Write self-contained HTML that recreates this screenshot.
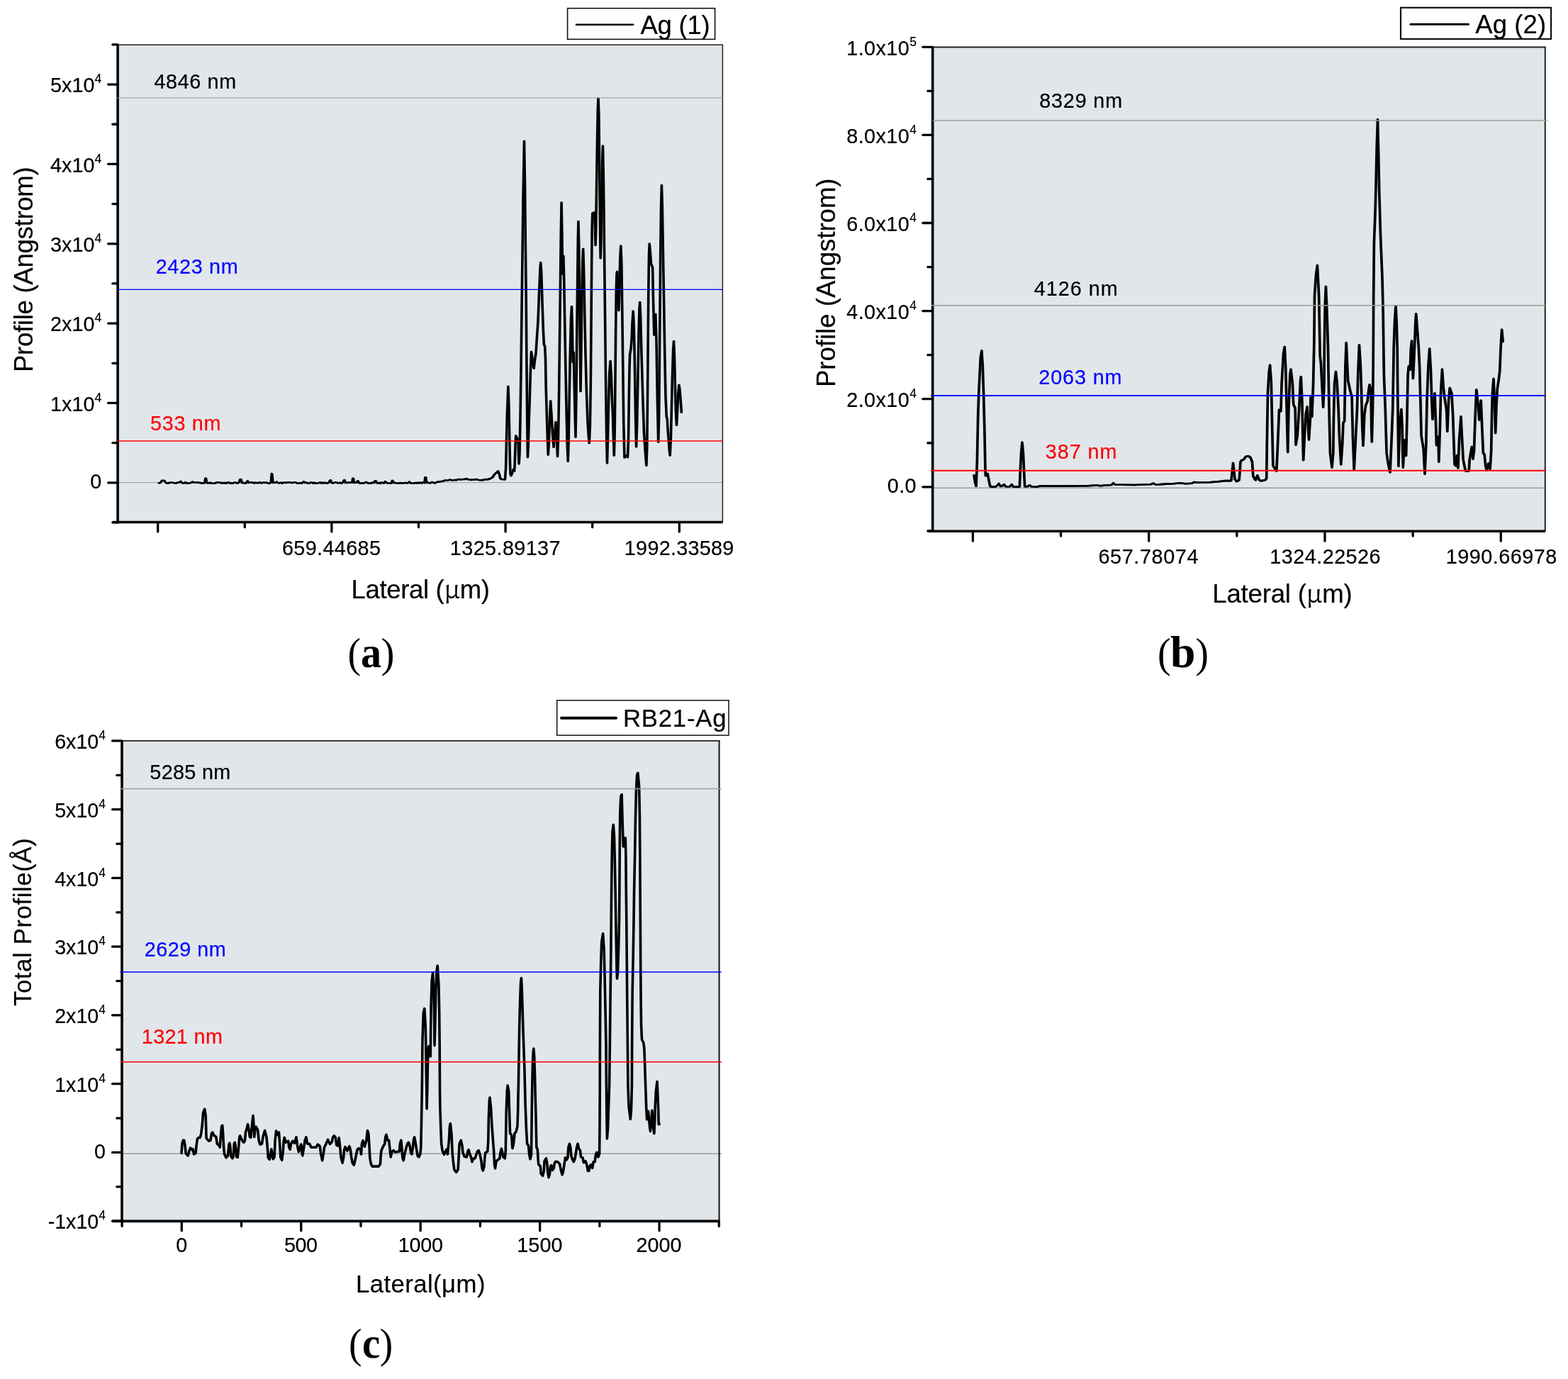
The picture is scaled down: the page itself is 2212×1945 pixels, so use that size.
<!DOCTYPE html>
<html lang="en"><head><meta charset="utf-8"><title>Profile figures</title>
<style>html,body{margin:0;padding:0;background:#fff}body{width:2212px;height:1945px;overflow:hidden}svg{display:block}text{white-space:pre}</style>
</head><body>
<svg xmlns="http://www.w3.org/2000/svg" width="2212" height="1945" viewBox="0 0 2212 1945">
<rect x="0" y="0" width="2212" height="1945" fill="#fff"/>
<g>
<rect x="166.10" y="63.30" width="853.30" height="673.20" fill="#e1e6ea"/>
<line x1="166.10" y1="680.60" x2="1019.40" y2="680.60" stroke="#9c9c9c" stroke-width="1.00" stroke-linecap="butt"/>
<polyline points="223.6,681.2 225.6,681.0 228.1,677.8 231.3,677.9 233.8,681.1 236.1,681.8 238.4,681.0 239.8,680.6 241.2,680.7 242.6,680.6 244.4,681.1 246.3,681.3 248.1,681.6 250.0,680.5 251.8,680.8 253.3,679.6 254.7,678.9 256.2,681.1 257.9,681.6 259.7,681.4 261.0,679.9 262.0,681.4 263.3,681.8 265.4,681.3 267.6,681.3 269.7,680.6 271.0,679.5 272.0,680.3 273.3,680.4 275.2,680.6 277.0,680.7 278.9,680.3 280.7,681.0 282.6,681.0 284.4,681.6 286.2,681.1 288.1,681.3 289.3,674.8 290.1,674.8 291.3,681.1 293.0,681.4 294.8,681.0 296.5,680.7 298.2,681.9 299.9,681.9 301.7,681.6 303.4,681.4 304.8,680.4 306.2,680.3 307.6,680.8 309.7,680.4 311.8,681.5 313.8,680.9 315.9,681.7 317.1,680.7 317.9,681.6 319.1,681.7 320.8,680.3 322.6,680.6 324.3,681.8 326.1,681.1 327.8,681.9 329.5,680.9 331.3,680.4 333.0,681.3 334.8,681.5 336.5,680.7 338.0,676.6 339.4,675.9 340.9,681.1 342.8,680.8 344.8,681.8 346.7,681.5 348.0,679.0 349.0,678.4 350.3,681.1 352.2,680.7 354.2,680.5 356.1,680.4 358.1,681.6 360.0,680.6 362.0,681.2 363.9,681.0 365.1,680.3 365.9,681.2 367.1,680.5 368.9,681.3 370.7,680.5 372.5,681.0 374.4,680.6 376.2,680.7 378.0,681.9 379.8,681.6 381.6,680.8 382.7,668.0 383.5,668.6 384.6,681.1 386.4,680.6 388.2,680.9 389.5,679.5 390.5,680.1 391.8,681.1 393.8,681.3 395.8,680.5 397.7,681.9 399.7,680.6 401.7,680.7 403.0,681.1 404.0,680.4 405.3,680.8 407.4,680.4 409.4,680.4 411.4,681.2 413.5,680.7 414.9,680.5 416.1,680.1 417.5,681.0 419.4,681.8 421.4,681.1 423.4,681.2 425.3,681.7 426.8,679.9 428.2,679.4 429.7,681.1 431.7,680.5 433.7,681.8 435.7,681.6 437.7,680.7 439.0,680.1 440.0,681.0 441.3,681.8 443.0,680.6 444.7,681.8 446.5,681.7 448.2,681.3 449.9,681.0 451.1,680.2 451.9,680.1 453.1,681.8 454.8,680.7 456.5,681.4 458.2,680.7 460.0,681.6 461.7,681.3 463.4,680.8 464.8,677.8 466.0,677.3 467.4,681.1 469.6,681.5 471.7,680.4 473.9,680.7 475.1,680.7 475.9,681.2 477.1,681.3 479.1,680.7 481.1,681.8 483.1,680.6 484.4,677.8 485.6,677.0 486.9,681.1 488.7,680.7 490.5,681.0 492.4,680.4 494.2,680.6 496.0,680.9 497.2,674.8 498.1,674.9 499.2,681.1 501.0,680.5 502.8,680.9 504.0,678.3 505.0,678.9 506.2,681.1 508.1,681.9 510.0,681.4 512.0,681.4 513.9,681.2 515.0,680.1 516.0,680.0 517.1,680.3 519.1,681.8 521.1,681.4 523.1,681.8 525.1,680.3 527.1,681.3 528.5,678.3 529.7,678.3 531.1,681.1 532.8,681.5 534.5,680.8 536.2,681.9 538.0,680.4 539.7,681.2 541.4,681.5 542.7,679.0 543.7,679.6 545.0,681.1 547.2,681.5 549.4,681.4 551.6,681.6 552.8,677.8 553.8,678.5 555.0,681.1 556.7,680.9 558.5,681.4 560.2,681.7 562.0,681.7 563.7,681.0 565.0,681.2 566.0,681.3 567.3,681.2 569.3,681.3 571.3,680.9 573.4,681.2 575.4,681.3 576.8,679.6 578.2,680.5 579.6,681.9 581.7,681.7 583.8,681.5 585.8,680.9 587.9,681.5 589.0,680.8 590.0,680.6 591.1,681.6 592.9,680.4 594.7,681.5 596.4,680.3 598.2,681.3 599.3,673.3 600.3,673.3 601.4,681.1 603.5,680.7 605.5,681.4 607.6,681.1 608.9,679.9 610.1,680.1 611.4,681.1 613.4,681.4 615.5,680.1 617.5,679.3 619.5,679.8 622.0,678.9 624.5,678.6 627.5,677.4 629.5,677.9 631.5,677.3 633.5,676.8 635.5,676.8 637.5,677.5 639.5,677.2 641.5,676.9 643.5,677.3 645.5,676.1 647.5,676.0 649.5,676.6 651.5,676.1 653.5,676.0 655.5,676.0 657.5,675.0 660.0,676.4 662.5,676.4 664.2,677.1 666.0,676.3 667.8,676.7 669.5,676.3 671.5,676.0 673.5,676.6 675.5,677.1 677.5,677.2 679.5,676.9 681.2,677.3 683.0,676.2 684.7,676.0 686.5,676.4 688.2,676.0" fill="none" stroke="#000" stroke-width="2.40" stroke-linejoin="round" stroke-linecap="round"/>
<polyline points="224.6,681.2 226.6,681.0 229.1,677.8 232.3,677.9 234.8,681.1 237.1,681.8 239.4,681.0 240.8,680.6 242.2,680.7 243.6,680.6 245.4,681.1 247.3,681.3 249.1,681.6 251.0,680.5 252.8,680.8 254.3,679.6 255.7,678.9 257.2,681.1 258.9,681.6 260.7,681.4 262.0,679.9 263.0,681.4 264.3,681.8 266.4,681.3 268.6,681.3 270.7,680.6 272.0,679.5 273.0,680.3 274.3,680.4 276.2,680.6 278.0,680.7 279.9,680.3 281.7,681.0 283.6,681.0 285.4,681.6 287.2,681.1 289.1,681.3 290.3,674.8 291.1,674.8 292.3,681.1 294.0,681.4 295.8,681.0 297.5,680.7 299.2,681.9 300.9,681.9 302.7,681.6 304.4,681.4 305.8,680.4 307.2,680.3 308.6,680.8 310.7,680.4 312.8,681.5 314.8,680.9 316.9,681.7 318.1,680.7 318.9,681.6 320.1,681.7 321.8,680.3 323.6,680.6 325.3,681.8 327.1,681.1 328.8,681.9 330.5,680.9 332.3,680.4 334.0,681.3 335.8,681.5 337.5,680.7 339.0,676.6 340.4,675.9 341.9,681.1 343.8,680.8 345.8,681.8 347.7,681.5 349.0,679.0 350.0,678.4 351.3,681.1 353.2,680.7 355.2,680.5 357.1,680.4 359.1,681.6 361.0,680.6 363.0,681.2 364.9,681.0 366.1,680.3 366.9,681.2 368.1,680.5 369.9,681.3 371.7,680.5 373.5,681.0 375.4,680.6 377.2,680.7 379.0,681.9 380.8,681.6 382.6,680.8 383.7,668.0 384.5,668.6 385.6,681.1 387.4,680.6 389.2,680.9 390.5,679.5 391.5,680.1 392.8,681.1 394.8,681.3 396.8,680.5 398.7,681.9 400.7,680.6 402.7,680.7 404.0,681.1 405.0,680.4 406.3,680.8 408.4,680.4 410.4,680.4 412.4,681.2 414.5,680.7 415.9,680.5 417.1,680.1 418.5,681.0 420.4,681.8 422.4,681.1 424.4,681.2 426.3,681.7 427.8,679.9 429.2,679.4 430.7,681.1 432.7,680.5 434.7,681.8 436.7,681.6 438.7,680.7 440.0,680.1 441.0,681.0 442.3,681.8 444.0,680.6 445.7,681.8 447.5,681.7 449.2,681.3 450.9,681.0 452.1,680.2 452.9,680.1 454.1,681.8 455.8,680.7 457.5,681.4 459.2,680.7 461.0,681.6 462.7,681.3 464.4,680.8 465.8,677.8 467.0,677.3 468.4,681.1 470.6,681.5 472.7,680.4 474.9,680.7 476.1,680.7 476.9,681.2 478.1,681.3 480.1,680.7 482.1,681.8 484.1,680.6 485.4,677.8 486.6,677.0 487.9,681.1 489.7,680.7 491.5,681.0 493.4,680.4 495.2,680.6 497.0,680.9 498.2,674.8 499.1,674.9 500.2,681.1 502.0,680.5 503.8,680.9 505.0,678.3 506.0,678.9 507.2,681.1 509.1,681.9 511.0,681.4 513.0,681.4 514.9,681.2 516.0,680.1 517.0,680.0 518.1,680.3 520.1,681.8 522.1,681.4 524.1,681.8 526.1,680.3 528.1,681.3 529.5,678.3 530.7,678.3 532.1,681.1 533.8,681.5 535.5,680.8 537.2,681.9 539.0,680.4 540.7,681.2 542.4,681.5 543.7,679.0 544.7,679.6 546.0,681.1 548.2,681.5 550.4,681.4 552.6,681.6 553.8,677.8 554.8,678.5 556.0,681.1 557.7,680.9 559.5,681.4 561.2,681.7 563.0,681.7 564.7,681.0 566.0,681.2 567.0,681.3 568.3,681.2 570.3,681.3 572.3,680.9 574.4,681.2 576.4,681.3 577.8,679.6 579.2,680.5 580.6,681.9 582.7,681.7 584.8,681.5 586.8,680.9 588.9,681.5 590.0,680.8 591.0,680.6 592.1,681.6 593.9,680.4 595.7,681.5 597.4,680.3 599.2,681.3 600.3,673.3 601.3,673.3 602.4,681.1 604.5,680.7 606.5,681.4 608.6,681.1 609.9,679.9 611.1,680.1 612.4,681.1 614.4,681.4 616.5,680.1 618.5,679.3 620.5,679.8 623.0,678.9 625.5,678.6 628.5,677.4 630.5,677.9 632.5,677.3 634.5,676.8 636.5,676.8 638.5,677.5 640.5,677.2 642.5,676.9 644.5,677.3 646.5,676.1 648.5,676.0 650.5,676.6 652.5,676.1 654.5,676.0 656.5,676.0 658.5,675.0 661.0,676.4 663.5,676.4 665.2,677.1 667.0,676.3 668.8,676.7 670.5,676.3 672.5,676.0 674.5,676.6 676.5,677.1 678.5,677.2 680.5,676.9 682.2,677.3 684.0,676.2 685.7,676.0 687.5,676.4 689.2,676.0" fill="none" stroke="#000" stroke-width="2.40" stroke-linejoin="round" stroke-linecap="round"/>
<polyline points="688.2,676.0 691.5,675.0 694.4,673.2 696.4,670.0 698.0,668.4 702.2,664.5 703.8,668.5 705.2,674.8 707.5,676.0 712.0,676.2 713.1,660.0 713.8,630.0 714.7,590.0 716.4,545.0 717.5,575.0 718.1,610.0 718.9,650.0 719.5,668.0 720.5,671.0 722.5,666.0 723.8,662.0 725.1,664.5 725.7,655.0 726.5,630.0 727.2,614.5 729.0,618.5 730.6,621.0 731.0,640.0 731.6,654.2 732.5,640.0 733.5,590.0 734.5,520.0 735.5,440.0 736.5,360.0 737.5,280.0 739.0,199.0 740.0,260.0 740.8,340.0 741.7,420.0 742.5,520.0 743.3,600.0 743.9,645.0 744.7,630.0 745.8,590.0 746.8,560.0 748.0,520.0 749.0,496.0 750.5,506.0 751.7,517.0 752.7,519.6 754.0,508.0 755.6,497.5 757.0,475.0 758.5,453.0 760.0,415.0 761.5,380.0 762.2,370.2 763.1,382.0 764.3,420.0 765.5,455.0 766.1,470.0 766.9,486.0 768.1,488.0 769.0,505.0 769.6,541.6 770.8,585.0 771.8,615.0 772.8,641.4 773.9,625.0 775.0,590.0 776.2,565.5 777.5,585.0 779.0,612.0 780.6,630.7 782.0,612.0 783.5,595.4 784.7,615.0 786.0,643.9 787.0,620.0 788.0,560.0 789.0,480.0 790.0,400.0 790.8,330.0 791.6,285.7 792.4,330.0 792.9,370.0 793.2,386.4 793.8,372.0 794.4,361.0 795.3,400.0 796.5,470.0 798.0,550.0 799.5,620.0 800.7,650.8 801.7,620.0 802.7,560.0 803.8,500.0 805.0,450.0 806.0,432.2 806.8,460.0 807.3,495.0 807.7,511.0 808.3,500.0 808.8,497.0 809.5,530.0 810.5,580.0 811.5,616.5 812.4,560.0 813.2,480.0 814.1,400.0 814.8,340.0 815.4,312.2 816.2,345.0 817.0,410.0 817.7,480.0 818.5,552.0 819.3,500.0 820.3,420.0 821.3,370.0 822.2,351.0 823.1,380.0 824.2,440.0 825.5,500.0 827.0,555.0 828.5,595.0 829.8,615.0 830.8,625.0 831.9,600.0 832.8,540.0 833.5,460.0 834.1,380.0 834.7,320.0 835.3,301.0 838.0,299.5 838.9,320.0 839.6,346.0 840.3,320.0 841.1,260.0 842.0,200.0 842.8,155.0 843.5,138.8 844.3,160.0 845.0,220.0 845.7,290.0 846.3,345.0 846.7,364.3 847.4,340.0 848.3,280.0 849.1,230.0 849.9,205.7 850.7,240.0 851.5,300.0 852.3,380.0 853.2,460.0 854.2,550.0 855.2,620.0 856.0,653.2 856.9,620.0 858.0,570.0 859.3,525.0 860.6,509.3 861.8,530.0 863.0,565.0 864.0,585.0 864.8,615.0 865.8,642.4 866.7,610.0 867.4,540.0 868.1,470.0 868.8,410.0 869.5,386.0 870.1,383.0 871.3,400.0 872.4,438.0 873.3,410.0 874.3,365.0 875.3,346.7 876.3,370.0 877.3,440.0 878.3,520.0 879.3,600.0 880.5,645.4 882.7,642.5 885.0,645.0 886.0,620.0 886.7,570.0 887.5,520.0 888.1,500.0 889.5,492.0 890.5,480.0 891.5,455.0 892.7,438.8 893.8,460.0 895.0,520.0 896.1,590.0 897.1,630.2 898.1,600.0 899.3,540.0 900.5,470.0 901.5,435.0 902.2,426.3 903.1,445.0 904.5,500.0 906.3,560.0 908.0,610.0 910.0,640.0 911.4,656.6 912.3,630.0 913.0,560.0 913.7,480.0 914.3,410.0 915.0,360.0 915.7,343.8 916.8,355.0 918.0,372.0 920.1,377.0 921.0,420.0 921.8,455.0 922.4,472.5 923.3,455.0 924.3,443.0 925.5,480.0 926.8,560.0 928.2,623.5 929.1,590.0 929.8,520.0 930.5,440.0 931.2,360.0 932.0,295.0 932.9,261.2 933.8,290.0 934.8,350.0 936.0,420.0 937.3,500.0 938.5,560.0 939.8,588.0 940.8,591.0 941.5,605.0 942.7,620.0 943.8,635.0 944.7,642.4 945.8,620.0 946.8,580.0 948.0,530.0 949.1,495.0 950.0,481.4 950.9,500.0 951.8,540.0 952.9,580.0 954.0,599.8 955.1,580.0 956.3,555.0 957.4,543.0 958.5,550.0 959.7,565.0 960.9,581.7" fill="none" stroke="#000" stroke-width="2.60" stroke-linejoin="round" stroke-linecap="round"/>
<polyline points="689.2,676.0 692.5,675.0 695.4,673.2 697.4,670.0 699.0,668.4 703.2,664.5 704.8,668.5 706.2,674.8 708.5,676.0 713.0,676.2 714.1,660.0 714.8,630.0 715.7,590.0 717.4,545.0 718.5,575.0 719.1,610.0 719.9,650.0 720.5,668.0 721.5,671.0 723.5,666.0 724.8,662.0 726.1,664.5 726.7,655.0 727.5,630.0 728.2,614.5 730.0,618.5 731.6,621.0 732.0,640.0 732.6,654.2 733.5,640.0 734.5,590.0 735.5,520.0 736.5,440.0 737.5,360.0 738.5,280.0 740.0,199.0 741.0,260.0 741.8,340.0 742.7,420.0 743.5,520.0 744.3,600.0 744.9,645.0 745.7,630.0 746.8,590.0 747.8,560.0 749.0,520.0 750.0,496.0 751.5,506.0 752.7,517.0 753.7,519.6 755.0,508.0 756.6,497.5 758.0,475.0 759.5,453.0 761.0,415.0 762.5,380.0 763.2,370.2 764.1,382.0 765.3,420.0 766.5,455.0 767.1,470.0 767.9,486.0 769.1,488.0 770.0,505.0 770.6,541.6 771.8,585.0 772.8,615.0 773.8,641.4 774.9,625.0 776.0,590.0 777.2,565.5 778.5,585.0 780.0,612.0 781.6,630.7 783.0,612.0 784.5,595.4 785.7,615.0 787.0,643.9 788.0,620.0 789.0,560.0 790.0,480.0 791.0,400.0 791.8,330.0 792.6,285.7 793.4,330.0 793.9,370.0 794.2,386.4 794.8,372.0 795.4,361.0 796.3,400.0 797.5,470.0 799.0,550.0 800.5,620.0 801.7,650.8 802.7,620.0 803.7,560.0 804.8,500.0 806.0,450.0 807.0,432.2 807.8,460.0 808.3,495.0 808.7,511.0 809.3,500.0 809.8,497.0 810.5,530.0 811.5,580.0 812.5,616.5 813.4,560.0 814.2,480.0 815.1,400.0 815.8,340.0 816.4,312.2 817.2,345.0 818.0,410.0 818.7,480.0 819.5,552.0 820.3,500.0 821.3,420.0 822.3,370.0 823.2,351.0 824.1,380.0 825.2,440.0 826.5,500.0 828.0,555.0 829.5,595.0 830.8,615.0 831.8,625.0 832.9,600.0 833.8,540.0 834.5,460.0 835.1,380.0 835.7,320.0 836.3,301.0 839.0,299.5 839.9,320.0 840.6,346.0 841.3,320.0 842.1,260.0 843.0,200.0 843.8,155.0 844.5,138.8 845.3,160.0 846.0,220.0 846.7,290.0 847.3,345.0 847.7,364.3 848.4,340.0 849.3,280.0 850.1,230.0 850.9,205.7 851.7,240.0 852.5,300.0 853.3,380.0 854.2,460.0 855.2,550.0 856.2,620.0 857.0,653.2 857.9,620.0 859.0,570.0 860.3,525.0 861.6,509.3 862.8,530.0 864.0,565.0 865.0,585.0 865.8,615.0 866.8,642.4 867.7,610.0 868.4,540.0 869.1,470.0 869.8,410.0 870.5,386.0 871.1,383.0 872.3,400.0 873.4,438.0 874.3,410.0 875.3,365.0 876.3,346.7 877.3,370.0 878.3,440.0 879.3,520.0 880.3,600.0 881.5,645.4 883.7,642.5 886.0,645.0 887.0,620.0 887.7,570.0 888.5,520.0 889.1,500.0 890.5,492.0 891.5,480.0 892.5,455.0 893.7,438.8 894.8,460.0 896.0,520.0 897.1,590.0 898.1,630.2 899.1,600.0 900.3,540.0 901.5,470.0 902.5,435.0 903.2,426.3 904.1,445.0 905.5,500.0 907.3,560.0 909.0,610.0 911.0,640.0 912.4,656.6 913.3,630.0 914.0,560.0 914.7,480.0 915.3,410.0 916.0,360.0 916.7,343.8 917.8,355.0 919.0,372.0 921.1,377.0 922.0,420.0 922.8,455.0 923.4,472.5 924.3,455.0 925.3,443.0 926.5,480.0 927.8,560.0 929.2,623.5 930.1,590.0 930.8,520.0 931.5,440.0 932.2,360.0 933.0,295.0 933.9,261.2 934.8,290.0 935.8,350.0 937.0,420.0 938.3,500.0 939.5,560.0 940.8,588.0 941.8,591.0 942.5,605.0 943.7,620.0 944.8,635.0 945.7,642.4 946.8,620.0 947.8,580.0 949.0,530.0 950.1,495.0 951.0,481.4 951.9,500.0 952.8,540.0 953.9,580.0 955.0,599.8 956.1,580.0 957.3,555.0 958.4,543.0 959.5,550.0 960.7,565.0 961.9,581.7" fill="none" stroke="#000" stroke-width="2.60" stroke-linejoin="round" stroke-linecap="round"/>
<line x1="166.10" y1="63.30" x2="1020.15" y2="63.30" stroke="#222" stroke-width="1.50" stroke-linecap="butt"/>
<line x1="1019.40" y1="63.30" x2="1019.40" y2="736.50" stroke="#222" stroke-width="1.50" stroke-linecap="butt"/>
<line x1="166.10" y1="63.30" x2="166.10" y2="738.30" stroke="#000" stroke-width="3.60" stroke-linecap="butt"/>
<line x1="158.60" y1="736.50" x2="1019.40" y2="736.50" stroke="#000" stroke-width="3.60" stroke-linecap="butt"/>
<line x1="164.60" y1="138.00" x2="1019.40" y2="138.00" stroke="#9c9c9c" stroke-width="1.00" stroke-linecap="butt"/>
<line x1="165.80" y1="408.30" x2="1019.40" y2="408.30" stroke="#0000ff" stroke-width="1.30" stroke-linecap="butt"/>
<line x1="165.80" y1="622.00" x2="1019.40" y2="622.00" stroke="#ff0000" stroke-width="1.30" stroke-linecap="butt"/>
<line x1="158.90" y1="736.97" x2="165.90" y2="736.97" stroke="#000" stroke-width="3.30" stroke-linecap="round"/>
<line x1="152.70" y1="680.80" x2="165.90" y2="680.80" stroke="#000" stroke-width="3.30" stroke-linecap="round"/>
<line x1="158.90" y1="624.63" x2="165.90" y2="624.63" stroke="#000" stroke-width="3.30" stroke-linecap="round"/>
<line x1="152.70" y1="568.46" x2="165.90" y2="568.46" stroke="#000" stroke-width="3.30" stroke-linecap="round"/>
<line x1="158.90" y1="512.29" x2="165.90" y2="512.29" stroke="#000" stroke-width="3.30" stroke-linecap="round"/>
<line x1="152.70" y1="456.12" x2="165.90" y2="456.12" stroke="#000" stroke-width="3.30" stroke-linecap="round"/>
<line x1="158.90" y1="399.95" x2="165.90" y2="399.95" stroke="#000" stroke-width="3.30" stroke-linecap="round"/>
<line x1="152.70" y1="343.78" x2="165.90" y2="343.78" stroke="#000" stroke-width="3.30" stroke-linecap="round"/>
<line x1="158.90" y1="287.61" x2="165.90" y2="287.61" stroke="#000" stroke-width="3.30" stroke-linecap="round"/>
<line x1="152.70" y1="231.44" x2="165.90" y2="231.44" stroke="#000" stroke-width="3.30" stroke-linecap="round"/>
<line x1="158.90" y1="175.27" x2="165.90" y2="175.27" stroke="#000" stroke-width="3.30" stroke-linecap="round"/>
<line x1="152.70" y1="119.10" x2="165.90" y2="119.10" stroke="#000" stroke-width="3.30" stroke-linecap="round"/>
<line x1="158.90" y1="62.93" x2="165.90" y2="62.93" stroke="#000" stroke-width="3.30" stroke-linecap="round"/>
<line x1="222.70" y1="736.70" x2="222.70" y2="749.90" stroke="#000" stroke-width="3.30" stroke-linecap="round"/>
<line x1="345.30" y1="736.70" x2="345.30" y2="743.70" stroke="#000" stroke-width="3.30" stroke-linecap="round"/>
<line x1="467.90" y1="736.70" x2="467.90" y2="749.90" stroke="#000" stroke-width="3.30" stroke-linecap="round"/>
<line x1="590.50" y1="736.70" x2="590.50" y2="743.70" stroke="#000" stroke-width="3.30" stroke-linecap="round"/>
<line x1="713.10" y1="736.70" x2="713.10" y2="749.90" stroke="#000" stroke-width="3.30" stroke-linecap="round"/>
<line x1="835.70" y1="736.70" x2="835.70" y2="743.70" stroke="#000" stroke-width="3.30" stroke-linecap="round"/>
<line x1="958.30" y1="736.70" x2="958.30" y2="749.90" stroke="#000" stroke-width="3.30" stroke-linecap="round"/>
<text transform="translate(143.20,688.80) scale(1,1.045)" font-size="28.80" fill="#000" stroke="#000" stroke-width="0.20" text-anchor="end" font-family="'Liberation Sans', Arial, sans-serif" letter-spacing="0.000">0</text>
<text transform="translate(143.20,579.66) scale(1,1.045)" font-size="28.80" fill="#000" stroke="#000" stroke-width="0.20" text-anchor="end" letter-spacing="0.000" font-family="'Liberation Sans', Arial, sans-serif">1x10<tspan font-size="17.60" dy="-12.44" letter-spacing="0">4</tspan></text>
<text transform="translate(143.20,467.32) scale(1,1.045)" font-size="28.80" fill="#000" stroke="#000" stroke-width="0.20" text-anchor="end" letter-spacing="0.000" font-family="'Liberation Sans', Arial, sans-serif">2x10<tspan font-size="17.60" dy="-12.44" letter-spacing="0">4</tspan></text>
<text transform="translate(143.20,354.98) scale(1,1.045)" font-size="28.80" fill="#000" stroke="#000" stroke-width="0.20" text-anchor="end" letter-spacing="0.000" font-family="'Liberation Sans', Arial, sans-serif">3x10<tspan font-size="17.60" dy="-12.44" letter-spacing="0">4</tspan></text>
<text transform="translate(143.20,242.64) scale(1,1.045)" font-size="28.80" fill="#000" stroke="#000" stroke-width="0.20" text-anchor="end" letter-spacing="0.000" font-family="'Liberation Sans', Arial, sans-serif">4x10<tspan font-size="17.60" dy="-12.44" letter-spacing="0">4</tspan></text>
<text transform="translate(143.20,130.30) scale(1,1.045)" font-size="28.80" fill="#000" stroke="#000" stroke-width="0.20" text-anchor="end" letter-spacing="0.000" font-family="'Liberation Sans', Arial, sans-serif">5x10<tspan font-size="17.60" dy="-12.44" letter-spacing="0">4</tspan></text>
<text transform="translate(397.90,782.80) scale(1,1.045)" font-size="28.80" fill="#000" stroke="#000" stroke-width="0.20" text-anchor="start" font-family="'Liberation Sans', Arial, sans-serif" letter-spacing="0.375">659.44685</text>
<text transform="translate(634.85,782.80) scale(1,1.045)" font-size="28.80" fill="#000" stroke="#000" stroke-width="0.20" text-anchor="start" font-family="'Liberation Sans', Arial, sans-serif" letter-spacing="0.400">1325.89137</text>
<text transform="translate(880.85,782.80) scale(1,1.045)" font-size="28.80" fill="#000" stroke="#000" stroke-width="0.20" text-anchor="start" font-family="'Liberation Sans', Arial, sans-serif" letter-spacing="0.267">1992.33589</text>
<text transform="translate(217.40,125.30) scale(1,1.045)" font-size="28.80" fill="#000" stroke="#000" stroke-width="0.20" text-anchor="start" font-family="'Liberation Sans', Arial, sans-serif" letter-spacing="0.633">4846 nm</text>
<text transform="translate(219.70,386.30) scale(1,1.045)" font-size="28.80" fill="#0000ff" stroke="#0000ff" stroke-width="0.20" text-anchor="start" font-family="'Liberation Sans', Arial, sans-serif" letter-spacing="0.667">2423 nm</text>
<text transform="translate(211.95,606.60) scale(1,1.045)" font-size="28.80" fill="#ff0000" stroke="#ff0000" stroke-width="0.20" text-anchor="start" font-family="'Liberation Sans', Arial, sans-serif" letter-spacing="0.720">533 nm</text>
<rect x="800.60" y="11.70" width="208.00" height="43.70" fill="#fff" stroke="#111" stroke-width="1.60"/>
<line x1="813.00" y1="34.80" x2="893.20" y2="34.80" stroke="#000" stroke-width="2.50" stroke-linecap="round"/>
<text transform="translate(903.45,47.60) scale(1,1.030)" font-size="36.50" fill="#000" stroke="#000" stroke-width="0.20" text-anchor="start" font-family="'Liberation Sans', Arial, sans-serif" letter-spacing="-0.240">Ag (1)</text>
<text stroke="#000" stroke-width="0.20" transform="translate(495.60,843.70) scale(1,1.030)" font-size="36.60" fill="#000" font-family="'Liberation Sans', Arial, sans-serif" letter-spacing="-0.400">Lateral (<tspan font-family="'Noto Serif CJK SC', 'Liberation Serif', serif">μ</tspan>m)</text>
<text stroke="#000" stroke-width="0.20" transform="translate(46.10,525.10) rotate(-90) scale(1,1.030)" font-size="36.60" fill="#000" font-family="'Liberation Sans', Arial, sans-serif" letter-spacing="-0.294">Profile (Angstrom)</text>
<text transform="translate(490.52,941.40) scale(0.9267,1)" font-size="60.00" fill="#000" font-family="'Liberation Serif', 'DejaVu Serif', serif" font-weight="normal">(</text><text transform="translate(509.07,941.40) scale(0.9630,1)" font-size="60.50" fill="#000" font-family="'Liberation Serif', 'DejaVu Serif', serif" font-weight="bold">a</text><text transform="translate(537.59,941.40) scale(0.9533,1)" font-size="60.00" fill="#000" font-family="'Liberation Serif', 'DejaVu Serif', serif" font-weight="normal">)</text>
</g>
<g>
<rect x="1315.70" y="66.60" width="864.10" height="682.60" fill="#e1e6ea"/>
<line x1="1313.70" y1="688.30" x2="2179.80" y2="688.30" stroke="#9c9c9c" stroke-width="1.50" stroke-linecap="butt"/>
<polyline points="1373.7,670.4 1375.1,680.0 1376.7,685.7 1378.0,651.4 1379.2,590.2 1380.4,553.5 1382.9,504.5 1384.5,494.7 1385.9,516.7 1387.1,553.5 1388.4,602.4 1389.6,663.6 1390.0,671.0 1391.1,669.5 1392.7,668.0 1394.1,675.0 1396.3,685.7 1398.8,686.6" fill="none" stroke="#000" stroke-width="2.90" stroke-linejoin="round" stroke-linecap="round"/>
<polyline points="1374.5,670.4 1375.9,680.0 1377.5,685.7 1378.8,651.4 1380.0,590.2 1381.2,553.5 1383.7,504.5 1385.3,494.7 1386.7,516.7 1387.9,553.5 1389.2,602.4 1390.4,663.6 1390.8,671.0 1391.9,669.5 1393.5,668.0 1394.9,675.0 1397.1,685.7 1399.6,686.6" fill="none" stroke="#000" stroke-width="2.90" stroke-linejoin="round" stroke-linecap="round"/>
<polyline points="1398.8,686.6 1403.6,686.6 1406.6,684.5 1408.6,682.0 1411.1,686.0 1414.1,685.0 1415.9,683.2 1418.6,686.3 1424.1,686.3 1426.9,683.2 1429.1,686.6 1437.1,686.6" fill="none" stroke="#000" stroke-width="2.60" stroke-linejoin="round" stroke-linecap="round"/>
<polyline points="1399.6,686.6 1404.4,686.6 1407.4,684.5 1409.4,682.0 1411.9,686.0 1414.9,685.0 1416.7,683.2 1419.4,686.3 1424.9,686.3 1427.7,683.2 1429.9,686.6 1437.9,686.6" fill="none" stroke="#000" stroke-width="2.60" stroke-linejoin="round" stroke-linecap="round"/>
<polyline points="1437.1,686.6 1438.0,686.0 1438.9,665.0 1440.1,640.0 1441.6,623.9 1443.1,640.0 1444.2,665.0 1445.3,686.0" fill="none" stroke="#000" stroke-width="2.90" stroke-linejoin="round" stroke-linecap="round"/>
<polyline points="1437.9,686.6 1438.8,686.0 1439.7,665.0 1440.9,640.0 1442.4,623.9 1443.9,640.0 1445.0,665.0 1446.1,686.0" fill="none" stroke="#000" stroke-width="2.90" stroke-linejoin="round" stroke-linecap="round"/>
<polyline points="1445.3,686.0 1448.6,686.3 1452.0,684.3 1454.6,686.3 1463.6,686.6 1466.6,685.2 1479.6,685.6 1499.6,685.6 1518.6,685.4 1534.6,685.2 1547.6,684.4 1551.6,685.2 1559.6,684.4 1567.6,684.0 1570.2,681.2 1572.6,683.6 1584.6,683.8 1599.6,684.0 1614.6,683.4 1623.6,683.0 1626.5,681.6 1630.2,683.6 1644.6,682.6 1654.6,682.2 1664.5,681.2 1671.6,682.2 1680.4,681.8 1684.1,680.0 1689.6,680.6 1706.1,680.3 1717.6,679.4 1728.2,678.1 1735.5,678.1" fill="none" stroke="#000" stroke-width="2.60" stroke-linejoin="round" stroke-linecap="round"/>
<polyline points="1446.1,686.0 1449.4,686.3 1452.8,684.3 1455.4,686.3 1464.4,686.6 1467.4,685.2 1480.4,685.6 1500.4,685.6 1519.4,685.4 1535.4,685.2 1548.4,684.4 1552.4,685.2 1560.4,684.4 1568.4,684.0 1571.0,681.2 1573.4,683.6 1585.4,683.8 1600.4,684.0 1615.4,683.4 1624.4,683.0 1627.3,681.6 1631.0,683.6 1645.4,682.6 1655.4,682.2 1665.3,681.2 1672.4,682.2 1681.2,681.8 1684.9,680.0 1690.4,680.6 1706.9,680.3 1718.4,679.4 1729.0,678.1 1736.3,678.1" fill="none" stroke="#000" stroke-width="2.60" stroke-linejoin="round" stroke-linecap="round"/>
<polyline points="1735.5,678.1 1736.7,677.1 1737.9,665.0 1739.2,653.2 1740.5,665.0 1741.6,675.9 1744.1,679.0 1746.1,678.2 1747.7,677.1 1748.8,664.0 1749.6,651.4 1750.8,649.6 1754.5,647.7 1756.6,644.6 1758.8,643.4 1761.4,643.8 1763.6,645.3 1766.1,651.4 1766.8,662.0 1767.3,671.0 1769.8,676.0 1771.0,677.1 1772.3,673.0 1773.5,670.4 1774.8,674.0 1775.9,677.1 1778.3,678.3 1784.5,677.1 1786.3,674.7 1786.9,626.9 1788.1,553.5 1789.8,525.0 1791.2,514.9 1793.0,541.2 1794.3,602.4 1795.5,656.3 1796.7,659.0 1800.4,664.3 1801.6,639.2 1804.1,578.0 1806.5,580.0 1807.7,541.2 1810.2,498.4 1811.8,489.2 1813.2,516.7 1814.5,565.7 1816.3,637.9 1817.5,578.0 1819.4,529.0 1820.6,521.0 1823.0,541.2 1824.3,570.6 1826.7,575.5 1827.3,602.4 1827.6,627.5 1829.8,614.7 1832.2,578.0 1834.1,538.0 1834.9,531.4 1836.5,565.7 1837.7,626.9 1838.3,649.0 1840.0,614.7 1841.8,584.1 1843.7,573.7 1844.9,598.0 1846.1,620.2 1848.0,590.2 1848.6,560.8 1850.4,587.7 1852.2,541.2 1853.5,480.0 1854.1,416.9 1856.1,388.0 1858.0,374.1 1860.2,416.9 1861.2,470.0 1861.8,502.0 1863.0,512.0 1864.4,540.0 1866.3,574.3 1867.6,541.2 1867.9,490.0 1868.9,430.0 1870.0,404.1 1871.2,430.0 1873.1,490.0 1873.7,529.0 1874.9,590.2 1876.1,639.2 1878.6,659.4 1880.4,639.2 1881.0,590.2 1882.2,541.2 1884.1,524.1 1885.9,541.2 1887.8,578.0 1889.0,614.7 1891.4,655.1 1893.3,626.9 1894.5,596.3 1896.3,593.9 1896.9,553.5 1897.5,516.7 1898.8,483.4 1900.0,510.6 1901.2,536.3 1904.3,551.0 1906.7,559.6 1908.0,614.7 1909.8,662.4 1911.6,626.9 1914.1,578.0 1915.3,529.0 1917.1,486.7 1919.0,516.7 1920.2,553.5 1921.4,602.4 1922.6,628.7 1924.5,584.1 1926.3,571.8 1928.8,565.7 1930.6,548.6 1931.8,542.4 1933.7,553.5 1934.3,602.4 1934.9,623.2 1936.1,578.0 1936.8,516.7 1937.3,416.9 1938.0,343.5 1939.8,294.5 1940.6,262.0 1941.9,205.0 1943.1,168.5 1944.2,215.0 1945.3,270.0 1947.1,331.2 1949.6,392.4 1950.8,441.4 1951.4,490.0 1952.0,529.0 1953.9,578.0 1955.7,639.2 1958.1,655.0 1960.6,666.1 1962.4,626.9 1964.3,578.0 1965.2,529.0 1965.8,490.0 1967.2,452.0 1968.6,431.6 1969.8,455.0 1970.8,490.0 1971.1,529.0 1971.6,578.0 1972.2,626.9 1972.5,657.5 1974.1,602.4 1976.5,577.3 1977.7,602.4 1978.4,639.2 1979.0,659.4 1980.8,620.8 1983.2,642.8 1984.5,590.2 1985.7,529.0 1986.9,516.7 1988.8,521.6 1990.0,492.2 1991.2,480.6 1992.2,505.0 1993.0,533.9 1994.2,510.0 1995.5,480.0 1996.4,455.0 1997.3,442.6 1998.8,462.0 2000.9,490.0 2002.2,516.7 2003.5,565.7 2004.7,614.7 2007.7,633.0 2009.6,668.5 2011.4,626.9 2012.6,565.7 2014.5,516.7 2016.3,491.6 2018.1,522.9 2019.4,565.7 2020.6,591.4 2022.1,570.0 2023.6,554.7 2024.9,590.2 2026.1,628.1 2028.6,615.9 2029.4,651.4 2031.0,602.4 2032.2,553.5 2034.1,521.0 2035.9,547.3 2037.7,562.0 2040.2,578.0 2041.4,608.6 2043.2,565.7 2044.8,547.3 2047.5,554.7 2049.3,587.5 2050.9,635.9 2051.7,655.3 2053.3,656.9 2054.9,642.4 2056.5,660.1 2058.2,619.8 2060.6,587.5 2062.2,619.8 2063.8,648.8 2067.0,664.2 2071.9,664.2 2072.7,648.8 2075.9,630.3 2077.5,647.2 2079.1,635.9 2080.7,587.5 2082.4,549.6 2084.8,571.4 2086.4,592.3 2088.8,564.9 2090.4,603.6 2092.0,639.1 2093.7,640.8 2095.3,656.9 2096.9,663.4 2099.3,653.7 2101.7,661.7 2103.3,635.9 2104.1,587.5 2105.0,555.2 2106.6,534.3 2108.2,571.4 2109.3,610.9 2110.6,571.4 2111.9,548.8 2113.8,535.9 2115.4,523.0 2116.7,490.7 2118.2,464.9 2119.8,481.8" fill="none" stroke="#000" stroke-width="2.90" stroke-linejoin="round" stroke-linecap="round"/>
<polyline points="1736.3,678.1 1737.5,677.1 1738.7,665.0 1740.0,653.2 1741.3,665.0 1742.4,675.9 1744.9,679.0 1746.9,678.2 1748.5,677.1 1749.6,664.0 1750.4,651.4 1751.6,649.6 1755.3,647.7 1757.4,644.6 1759.6,643.4 1762.2,643.8 1764.4,645.3 1766.9,651.4 1767.6,662.0 1768.1,671.0 1770.6,676.0 1771.8,677.1 1773.1,673.0 1774.3,670.4 1775.6,674.0 1776.7,677.1 1779.1,678.3 1785.3,677.1 1787.1,674.7 1787.7,626.9 1788.9,553.5 1790.6,525.0 1792.0,514.9 1793.8,541.2 1795.1,602.4 1796.3,656.3 1797.5,659.0 1801.2,664.3 1802.4,639.2 1804.9,578.0 1807.3,580.0 1808.5,541.2 1811.0,498.4 1812.6,489.2 1814.0,516.7 1815.3,565.7 1817.1,637.9 1818.3,578.0 1820.2,529.0 1821.4,521.0 1823.8,541.2 1825.1,570.6 1827.5,575.5 1828.1,602.4 1828.4,627.5 1830.6,614.7 1833.0,578.0 1834.9,538.0 1835.7,531.4 1837.3,565.7 1838.5,626.9 1839.1,649.0 1840.8,614.7 1842.6,584.1 1844.5,573.7 1845.7,598.0 1846.9,620.2 1848.8,590.2 1849.4,560.8 1851.2,587.7 1853.0,541.2 1854.3,480.0 1854.9,416.9 1856.9,388.0 1858.8,374.1 1861.0,416.9 1862.0,470.0 1862.6,502.0 1863.8,512.0 1865.2,540.0 1867.1,574.3 1868.4,541.2 1868.7,490.0 1869.7,430.0 1870.8,404.1 1872.0,430.0 1873.9,490.0 1874.5,529.0 1875.7,590.2 1876.9,639.2 1879.4,659.4 1881.2,639.2 1881.8,590.2 1883.0,541.2 1884.9,524.1 1886.7,541.2 1888.6,578.0 1889.8,614.7 1892.2,655.1 1894.1,626.9 1895.3,596.3 1897.1,593.9 1897.7,553.5 1898.3,516.7 1899.6,483.4 1900.8,510.6 1902.0,536.3 1905.1,551.0 1907.5,559.6 1908.8,614.7 1910.6,662.4 1912.4,626.9 1914.9,578.0 1916.1,529.0 1917.9,486.7 1919.8,516.7 1921.0,553.5 1922.2,602.4 1923.4,628.7 1925.3,584.1 1927.1,571.8 1929.6,565.7 1931.4,548.6 1932.6,542.4 1934.5,553.5 1935.1,602.4 1935.7,623.2 1936.9,578.0 1937.6,516.7 1938.1,416.9 1938.8,343.5 1940.6,294.5 1941.4,262.0 1942.7,205.0 1943.9,168.5 1945.0,215.0 1946.1,270.0 1947.9,331.2 1950.4,392.4 1951.6,441.4 1952.2,490.0 1952.8,529.0 1954.7,578.0 1956.5,639.2 1958.9,655.0 1961.4,666.1 1963.2,626.9 1965.1,578.0 1966.0,529.0 1966.6,490.0 1968.0,452.0 1969.4,431.6 1970.6,455.0 1971.6,490.0 1971.9,529.0 1972.4,578.0 1973.0,626.9 1973.3,657.5 1974.9,602.4 1977.3,577.3 1978.5,602.4 1979.2,639.2 1979.8,659.4 1981.6,620.8 1984.0,642.8 1985.3,590.2 1986.5,529.0 1987.7,516.7 1989.6,521.6 1990.8,492.2 1992.0,480.6 1993.0,505.0 1993.8,533.9 1995.0,510.0 1996.3,480.0 1997.2,455.0 1998.1,442.6 1999.6,462.0 2001.7,490.0 2003.0,516.7 2004.3,565.7 2005.5,614.7 2008.5,633.0 2010.4,668.5 2012.2,626.9 2013.4,565.7 2015.3,516.7 2017.1,491.6 2018.9,522.9 2020.2,565.7 2021.4,591.4 2022.9,570.0 2024.4,554.7 2025.7,590.2 2026.9,628.1 2029.4,615.9 2030.2,651.4 2031.8,602.4 2033.0,553.5 2034.9,521.0 2036.7,547.3 2038.5,562.0 2041.0,578.0 2042.2,608.6 2044.0,565.7 2045.6,547.3 2048.3,554.7 2050.1,587.5 2051.7,635.9 2052.5,655.3 2054.1,656.9 2055.7,642.4 2057.3,660.1 2059.0,619.8 2061.4,587.5 2063.0,619.8 2064.6,648.8 2067.8,664.2 2072.7,664.2 2073.5,648.8 2076.7,630.3 2078.3,647.2 2079.9,635.9 2081.5,587.5 2083.2,549.6 2085.6,571.4 2087.2,592.3 2089.6,564.9 2091.2,603.6 2092.8,639.1 2094.5,640.8 2096.1,656.9 2097.7,663.4 2100.1,653.7 2102.5,661.7 2104.1,635.9 2104.9,587.5 2105.8,555.2 2107.4,534.3 2109.0,571.4 2110.1,610.9 2111.4,571.4 2112.7,548.8 2114.6,535.9 2116.2,523.0 2117.5,490.7 2119.0,464.9 2120.6,481.8" fill="none" stroke="#000" stroke-width="2.90" stroke-linejoin="round" stroke-linecap="round"/>
<line x1="1315.70" y1="66.60" x2="2180.80" y2="66.60" stroke="#222" stroke-width="2.00" stroke-linecap="butt"/>
<line x1="2179.80" y1="66.60" x2="2179.80" y2="749.20" stroke="#222" stroke-width="2.00" stroke-linecap="butt"/>
<line x1="1315.70" y1="66.60" x2="1315.70" y2="751.00" stroke="#000" stroke-width="3.60" stroke-linecap="butt"/>
<line x1="1308.70" y1="749.20" x2="2179.80" y2="749.20" stroke="#000" stroke-width="3.60" stroke-linecap="butt"/>
<line x1="1315.70" y1="169.90" x2="2183.30" y2="169.90" stroke="#9c9c9c" stroke-width="1.50" stroke-linecap="butt"/>
<line x1="1313.70" y1="430.80" x2="2179.80" y2="430.80" stroke="#9c9c9c" stroke-width="1.50" stroke-linecap="butt"/>
<line x1="1313.20" y1="558.00" x2="2179.80" y2="558.00" stroke="#0000ff" stroke-width="2.00" stroke-linecap="butt"/>
<line x1="1313.20" y1="663.80" x2="2179.80" y2="663.80" stroke="#ff0000" stroke-width="2.00" stroke-linecap="butt"/>
<line x1="1308.90" y1="748.85" x2="1315.50" y2="748.85" stroke="#000" stroke-width="3.30" stroke-linecap="round"/>
<line x1="1301.90" y1="686.80" x2="1315.50" y2="686.80" stroke="#000" stroke-width="3.30" stroke-linecap="round"/>
<line x1="1308.90" y1="624.75" x2="1315.50" y2="624.75" stroke="#000" stroke-width="3.30" stroke-linecap="round"/>
<line x1="1301.90" y1="562.70" x2="1315.50" y2="562.70" stroke="#000" stroke-width="3.30" stroke-linecap="round"/>
<line x1="1308.90" y1="500.65" x2="1315.50" y2="500.65" stroke="#000" stroke-width="3.30" stroke-linecap="round"/>
<line x1="1301.90" y1="438.60" x2="1315.50" y2="438.60" stroke="#000" stroke-width="3.30" stroke-linecap="round"/>
<line x1="1308.90" y1="376.55" x2="1315.50" y2="376.55" stroke="#000" stroke-width="3.30" stroke-linecap="round"/>
<line x1="1301.90" y1="314.50" x2="1315.50" y2="314.50" stroke="#000" stroke-width="3.30" stroke-linecap="round"/>
<line x1="1308.90" y1="252.45" x2="1315.50" y2="252.45" stroke="#000" stroke-width="3.30" stroke-linecap="round"/>
<line x1="1301.90" y1="190.40" x2="1315.50" y2="190.40" stroke="#000" stroke-width="3.30" stroke-linecap="round"/>
<line x1="1308.90" y1="128.35" x2="1315.50" y2="128.35" stroke="#000" stroke-width="3.30" stroke-linecap="round"/>
<line x1="1301.90" y1="66.30" x2="1315.50" y2="66.30" stroke="#000" stroke-width="3.30" stroke-linecap="round"/>
<line x1="1372.40" y1="749.40" x2="1372.40" y2="763.00" stroke="#000" stroke-width="3.30" stroke-linecap="round"/>
<line x1="1496.55" y1="749.40" x2="1496.55" y2="756.00" stroke="#000" stroke-width="3.30" stroke-linecap="round"/>
<line x1="1620.70" y1="749.40" x2="1620.70" y2="763.00" stroke="#000" stroke-width="3.30" stroke-linecap="round"/>
<line x1="1744.85" y1="749.40" x2="1744.85" y2="756.00" stroke="#000" stroke-width="3.30" stroke-linecap="round"/>
<line x1="1869.00" y1="749.40" x2="1869.00" y2="763.00" stroke="#000" stroke-width="3.30" stroke-linecap="round"/>
<line x1="1993.15" y1="749.40" x2="1993.15" y2="756.00" stroke="#000" stroke-width="3.30" stroke-linecap="round"/>
<line x1="2117.30" y1="749.40" x2="2117.30" y2="763.00" stroke="#000" stroke-width="3.30" stroke-linecap="round"/>
<text transform="translate(1293.00,695.00) scale(1,1.045)" font-size="28.80" fill="#000" stroke="#000" stroke-width="0.20" text-anchor="end" font-family="'Liberation Sans', Arial, sans-serif" letter-spacing="0.420">0.0</text>
<text transform="translate(1293.00,574.10) scale(1,1.045)" font-size="28.80" fill="#000" stroke="#000" stroke-width="0.20" text-anchor="end" letter-spacing="0.420" font-family="'Liberation Sans', Arial, sans-serif">2.0x10<tspan font-size="17.60" dy="-12.44" letter-spacing="0">4</tspan></text>
<text transform="translate(1293.00,450.00) scale(1,1.045)" font-size="28.80" fill="#000" stroke="#000" stroke-width="0.20" text-anchor="end" letter-spacing="0.420" font-family="'Liberation Sans', Arial, sans-serif">4.0x10<tspan font-size="17.60" dy="-12.44" letter-spacing="0">4</tspan></text>
<text transform="translate(1293.00,325.90) scale(1,1.045)" font-size="28.80" fill="#000" stroke="#000" stroke-width="0.20" text-anchor="end" letter-spacing="0.420" font-family="'Liberation Sans', Arial, sans-serif">6.0x10<tspan font-size="17.60" dy="-12.44" letter-spacing="0">4</tspan></text>
<text transform="translate(1293.00,201.80) scale(1,1.045)" font-size="28.80" fill="#000" stroke="#000" stroke-width="0.20" text-anchor="end" letter-spacing="0.420" font-family="'Liberation Sans', Arial, sans-serif">8.0x10<tspan font-size="17.60" dy="-12.44" letter-spacing="0">4</tspan></text>
<text transform="translate(1293.00,77.70) scale(1,1.045)" font-size="28.80" fill="#000" stroke="#000" stroke-width="0.20" text-anchor="end" letter-spacing="0.420" font-family="'Liberation Sans', Arial, sans-serif">1.0x10<tspan font-size="17.60" dy="-12.44" letter-spacing="0">5</tspan></text>
<text transform="translate(1549.45,795.40) scale(1,1.045)" font-size="28.80" fill="#000" stroke="#000" stroke-width="0.20" text-anchor="start" font-family="'Liberation Sans', Arial, sans-serif" letter-spacing="0.625">657.78074</text>
<text transform="translate(1791.30,795.40) scale(1,1.045)" font-size="28.80" fill="#000" stroke="#000" stroke-width="0.20" text-anchor="start" font-family="'Liberation Sans', Arial, sans-serif" letter-spacing="0.467">1324.22526</text>
<text transform="translate(2039.75,795.40) scale(1,1.045)" font-size="28.80" fill="#000" stroke="#000" stroke-width="0.20" text-anchor="start" font-family="'Liberation Sans', Arial, sans-serif" letter-spacing="0.489">1990.66978</text>
<text transform="translate(1466.15,151.60) scale(1,1.045)" font-size="28.80" fill="#000" stroke="#000" stroke-width="0.20" text-anchor="start" font-family="'Liberation Sans', Arial, sans-serif" letter-spacing="0.834">8329 nm</text>
<text transform="translate(1458.80,417.20) scale(1,1.045)" font-size="28.80" fill="#000" stroke="#000" stroke-width="0.20" text-anchor="start" font-family="'Liberation Sans', Arial, sans-serif" letter-spacing="0.967">4126 nm</text>
<text transform="translate(1465.35,541.80) scale(1,1.045)" font-size="28.80" fill="#0000ff" stroke="#0000ff" stroke-width="0.20" text-anchor="start" font-family="'Liberation Sans', Arial, sans-serif" letter-spacing="0.867">2063 nm</text>
<text transform="translate(1474.75,647.10) scale(1,1.045)" font-size="28.80" fill="#ff0000" stroke="#ff0000" stroke-width="0.20" text-anchor="start" font-family="'Liberation Sans', Arial, sans-serif" letter-spacing="0.960">387 nm</text>
<rect x="1976.00" y="10.80" width="212.10" height="44.20" fill="#fff" stroke="#111" stroke-width="2.20"/>
<line x1="1990.00" y1="34.20" x2="2071.50" y2="34.20" stroke="#000" stroke-width="3.00" stroke-linecap="round"/>
<text transform="translate(2081.30,47.20) scale(1,1.030)" font-size="36.50" fill="#000" stroke="#000" stroke-width="0.20" text-anchor="start" font-family="'Liberation Sans', Arial, sans-serif" letter-spacing="0.080">Ag (2)</text>
<text stroke="#000" stroke-width="0.20" transform="translate(1710.35,849.50) scale(1,1.030)" font-size="36.60" fill="#000" font-family="'Liberation Sans', Arial, sans-serif" letter-spacing="-0.219">Lateral (<tspan font-family="'Noto Serif CJK SC', 'Liberation Serif', serif">μ</tspan>m)</text>
<text stroke="#000" stroke-width="0.20" transform="translate(1177.70,546.05) rotate(-90) scale(1,1.030)" font-size="36.60" fill="#000" font-family="'Liberation Sans', Arial, sans-serif" letter-spacing="-0.012">Profile (Angstrom)</text>
<text transform="translate(1633.10,941.20) scale(0.9333,1)" font-size="60.00" fill="#000" font-family="'Liberation Serif', 'DejaVu Serif', serif" font-weight="normal">(</text><text transform="translate(1650.99,941.20) scale(1.0125,1)" font-size="63.00" fill="#000" font-family="'Liberation Serif', 'DejaVu Serif', serif" font-weight="bold">b</text><text transform="translate(1686.55,941.20) scale(0.9267,1)" font-size="60.00" fill="#000" font-family="'Liberation Serif', 'DejaVu Serif', serif" font-weight="normal">)</text>
</g>
<g>
<rect x="172.00" y="1044.90" width="842.60" height="677.50" fill="#e1e6ea"/>
<line x1="170.00" y1="1627.20" x2="1017.60" y2="1627.20" stroke="#9c9c9c" stroke-width="1.50" stroke-linecap="butt"/>
<polyline points="256.1,1626.5 256.9,1613.3 258.3,1608.4 259.8,1608.4 261.3,1618.1 262.2,1627.0 265.2,1629.9 267.1,1623.0 268.6,1619.1 270.6,1621.6 272.0,1620.6 273.5,1627.9 276.0,1626.5 277.4,1613.3 278.4,1606.4 279.4,1604.9 282.3,1604.4 283.8,1598.6 285.3,1586.8 286.7,1569.2 288.7,1564.3 290.2,1574.1 290.6,1588.8 291.1,1605.4 294.6,1609.3 297.0,1608.4 298.5,1598.6 299.8,1597.1 301.9,1601.5 304.8,1603.5 306.3,1613.3 308.8,1615.2 310.2,1618.1 311.7,1598.6 312.7,1588.8 313.7,1587.3 314.6,1598.6 315.6,1618.1 316.6,1627.9 319.0,1632.8 321.5,1629.9 323.0,1614.2 323.9,1612.3 324.9,1618.1 325.9,1630.9 327.9,1633.8 329.3,1630.9 330.3,1613.3 331.3,1611.3 332.8,1620.1 333.7,1631.9 335.2,1632.4 336.7,1618.1 337.7,1604.4 338.6,1602.0 340.6,1606.4 342.6,1610.3 344.0,1611.3 345.5,1608.4 346.5,1596.6 347.9,1592.7 349.6,1585.8 350.9,1592.7 352.4,1603.5 353.8,1604.4 355.3,1588.8 357.0,1573.6 358.2,1588.8 358.7,1603.5 360.2,1590.7 361.2,1589.3 363.6,1593.7 365.1,1608.4 367.0,1614.2 369.5,1613.3 371.0,1603.5 373.6,1594.6 375.9,1603.5 377.3,1618.1 378.3,1632.8 380.3,1635.3 382.9,1621.1 385.2,1634.8 387.1,1631.9 388.1,1608.4 389.6,1595.1 391.5,1600.5 393.5,1597.1 395.0,1618.1 395.9,1632.8 397.7,1636.3 399.4,1623.0 400.3,1608.4 401.3,1604.4 403.3,1611.3 406.7,1609.3 407.7,1618.1 409.2,1621.1 410.6,1613.3 413.1,1609.3 415.5,1612.3 418.0,1603.9 419.9,1618.1 421.4,1624.5 423.4,1618.1 424.8,1614.2 426.3,1627.9 426.8,1629.9 428.7,1618.1 430.2,1608.4 431.9,1603.9 433.6,1613.3 436.6,1613.3 439.0,1618.1 440.0,1618.3 445.9,1618.3 448.3,1614.2 451.3,1616.7 452.7,1627.9 454.7,1636.8 456.2,1627.9 457.6,1618.1 459.6,1614.2 462.5,1607.4 465.5,1613.7 468.4,1610.3 469.4,1604.4 471.3,1602.0 473.3,1604.4 474.8,1615.2 476.7,1616.2 478.2,1604.9 479.7,1618.1 481.1,1632.8 483.1,1640.2 484.6,1632.8 485.5,1622.1 487.0,1617.7 490.0,1623.0 492.9,1616.7 494.4,1622.1 495.8,1632.8 497.3,1640.7 499.3,1643.1 500.7,1637.7 502.7,1627.9 504.2,1621.1 506.1,1619.6 508.6,1622.1 509.5,1627.9 510.5,1613.3 512.0,1608.8 514.4,1617.2 516.9,1608.4 518.4,1594.6 519.8,1598.6 520.8,1613.3 521.8,1632.8 523.3,1641.7 525.2,1645.1 534.0,1645.1 536.5,1641.7 537.0,1632.8 537.9,1623.0 540.9,1616.2 542.8,1613.3 543.8,1603.5 545.0,1600.5 546.8,1608.4 548.7,1608.4 549.7,1618.1 551.2,1631.9 553.1,1624.0 555.1,1622.6 557.5,1625.0 563.4,1624.0 564.4,1613.3 565.9,1608.4 566.8,1618.1 567.8,1632.8 569.1,1636.8 570.8,1627.9 573.2,1618.1 575.2,1612.3 576.4,1611.3 578.1,1616.2 579.6,1626.0 581.0,1627.9 582.5,1618.1 583.5,1607.4 584.7,1603.9 586.4,1613.3 587.9,1623.0 589.4,1630.9 590.8,1631.9 592.8,1627.9 593.8,1618.1 594.4,1589.0 594.9,1560.0 595.4,1530.0 595.7,1500.0 596.0,1467.0 597.3,1428.6 598.8,1422.7 600.3,1448.0 601.0,1487.0 601.6,1530.0 602.1,1563.8 602.8,1535.0 603.3,1507.0 603.9,1482.4 604.7,1476.0 607.1,1475.6 607.3,1490.0 607.6,1458.0 608.1,1418.8 609.1,1384.5 610.6,1371.8 612.0,1399.2 612.8,1448.1 613.0,1474.6 613.8,1448.1 614.8,1399.2 616.0,1369.8 617.2,1362.0 618.9,1389.4 619.7,1428.6 620.2,1477.5 620.5,1536.0 620.8,1559.4 621.7,1588.8 622.7,1613.3 624.1,1623.0 626.6,1628.4 628.5,1624.0 630.5,1620.6 631.5,1627.9 633.4,1608.4 634.4,1588.8 635.4,1584.8 636.9,1598.6 638.3,1627.9 639.3,1637.7 640.8,1649.5 643.7,1653.4 646.2,1649.5 647.1,1632.8 648.1,1613.3 650.3,1608.4 652.0,1616.2 653.0,1626.0 655.0,1630.9 658.4,1631.9 659.9,1624.0 661.1,1621.6 662.8,1627.9 664.8,1632.8 666.0,1638.7 667.7,1634.3 670.2,1633.8 672.1,1627.9 673.6,1624.0 675.1,1622.6 677.0,1627.9 679.0,1637.7 680.0,1647.5 681.4,1651.0 682.9,1645.6 683.9,1632.8 684.8,1626.0 687.8,1624.0 688.8,1608.4 689.3,1579.0 690.2,1554.5 691.0,1548.1 692.7,1564.3 693.7,1583.9 695.1,1603.5 696.6,1623.0 697.6,1642.6 698.6,1648.0 700.0,1637.7 702.5,1635.8 704.9,1633.8 705.9,1626.0 707.4,1620.1 708.8,1626.0 709.8,1631.9 712.3,1633.8 713.3,1623.0 713.7,1598.6 714.2,1569.2 715.2,1539.8 716.2,1531.0 717.7,1539.8 718.6,1569.2 719.6,1598.6 721.6,1600.5 722.6,1616.2 723.0,1619.6 724.5,1613.3 726.0,1598.6 727.9,1596.6 729.9,1589.0 730.6,1569.0 731.0,1545.0 731.4,1530.0 731.9,1497.0 732.7,1448.0 733.7,1410.0 734.6,1386.0 735.4,1379.6 736.2,1394.0 737.0,1420.0 737.9,1450.0 739.0,1482.0 739.9,1507.0 740.6,1536.0 741.2,1560.0 742.3,1589.0 743.6,1613.0 745.6,1616.2 746.6,1627.9 748.0,1634.8 749.5,1628.0 749.9,1599.0 750.3,1560.0 750.7,1536.0 751.3,1505.0 752.0,1487.0 752.8,1479.0 753.7,1490.0 754.5,1515.0 755.1,1542.0 755.7,1565.0 756.3,1589.0 756.8,1618.0 758.3,1621.1 759.3,1637.7 759.8,1642.6 762.2,1644.6 763.2,1655.4 765.7,1658.3 767.1,1652.4 768.1,1637.7 770.5,1633.8 772.0,1642.6 772.5,1652.4 774.0,1660.8 775.4,1656.3 776.4,1645.6 777.9,1643.6 779.4,1650.5 781.3,1647.5 782.3,1640.7 783.8,1638.2 786.7,1638.7 789.6,1641.7 791.1,1649.5 793.1,1656.8 794.5,1652.4 796.0,1642.6 797.5,1632.8 799.4,1635.8 800.9,1632.8 801.9,1618.1 803.4,1613.3 804.8,1618.1 805.8,1629.9 807.3,1634.8 809.2,1638.7 811.2,1633.8 812.2,1627.9 813.6,1618.1 815.1,1613.3 816.6,1620.1 818.5,1622.6 819.5,1631.9 822.0,1632.8 823.4,1639.7 825.9,1637.7 827.8,1642.6 829.3,1651.4 830.8,1651.4 832.2,1644.6 833.7,1642.6 835.7,1647.5 837.1,1638.7 839.1,1638.7 840.6,1627.9 842.0,1625.5 844.0,1631.9 845.5,1627.9 845.6,1627.0 846.0,1590.0 846.3,1530.0 846.4,1476.0 846.8,1398.0 847.7,1359.0 848.7,1329.0 850.6,1316.7 852.1,1339.0 853.1,1378.0 854.1,1427.0 855.0,1476.0 855.4,1530.0 855.8,1570.0 856.4,1605.9 857.6,1590.0 858.6,1560.0 859.6,1530.0 860.3,1476.0 861.2,1398.0 861.9,1339.0 862.2,1298.0 862.8,1239.0 863.4,1200.0 864.0,1173.0 865.3,1163.3 866.5,1180.0 867.4,1217.0 868.1,1256.0 868.8,1300.0 869.5,1340.0 870.0,1368.0 870.5,1380.3 871.5,1372.0 872.5,1340.0 873.5,1300.0 873.9,1256.0 874.2,1200.0 874.7,1150.0 875.8,1123.0 877.1,1120.6 878.4,1168.0 879.3,1194.0 880.7,1184.0 882.3,1182.0 882.9,1207.0 883.3,1256.0 883.8,1300.0 884.3,1358.0 884.8,1417.0 885.4,1476.0 885.9,1530.0 887.0,1560.0 889.3,1578.5 890.5,1565.0 891.4,1530.0 891.6,1476.0 892.2,1398.0 893.2,1349.0 894.0,1300.0 894.6,1256.0 895.6,1207.0 896.4,1158.0 897.3,1119.0 898.6,1093.0 899.9,1090.3 901.6,1109.0 902.4,1149.0 902.8,1200.0 903.1,1256.0 903.4,1308.0 903.8,1376.0 904.2,1417.0 904.6,1447.0 905.5,1466.0 907.9,1471.0 908.9,1480.0 909.8,1505.0 910.6,1530.0 911.6,1559.0 912.6,1579.0 914.5,1567.2 916.5,1588.8 917.5,1595.6 918.9,1579.0 919.9,1566.2 921.4,1588.8 922.8,1598.6 923.8,1579.0 924.3,1559.4 925.3,1539.8 927.0,1525.6 927.7,1539.8 928.7,1564.3 929.2,1585.8 930.2,1585.3" fill="none" stroke="#000" stroke-width="3.60" stroke-linejoin="round" stroke-linecap="round"/>
<line x1="172.00" y1="1044.90" x2="1015.70" y2="1044.90" stroke="#222" stroke-width="1.80" stroke-linecap="butt"/>
<line x1="1014.60" y1="1044.90" x2="1014.60" y2="1722.40" stroke="#222" stroke-width="2.20" stroke-linecap="butt"/>
<line x1="172.00" y1="1044.90" x2="172.00" y2="1724.20" stroke="#000" stroke-width="3.60" stroke-linecap="butt"/>
<line x1="158.50" y1="1722.40" x2="1014.60" y2="1722.40" stroke="#000" stroke-width="3.60" stroke-linecap="butt"/>
<line x1="169.50" y1="1112.40" x2="1017.60" y2="1112.40" stroke="#9c9c9c" stroke-width="1.50" stroke-linecap="butt"/>
<line x1="169.50" y1="1371.00" x2="1017.60" y2="1371.00" stroke="#0000ff" stroke-width="1.50" stroke-linecap="butt"/>
<line x1="171.00" y1="1497.80" x2="1017.60" y2="1497.80" stroke="#ff0000" stroke-width="1.50" stroke-linecap="butt"/>
<line x1="158.60" y1="1722.15" x2="171.80" y2="1722.15" stroke="#000" stroke-width="3.30" stroke-linecap="round"/>
<line x1="164.80" y1="1673.78" x2="171.80" y2="1673.78" stroke="#000" stroke-width="3.30" stroke-linecap="round"/>
<line x1="158.60" y1="1625.40" x2="171.80" y2="1625.40" stroke="#000" stroke-width="3.30" stroke-linecap="round"/>
<line x1="164.80" y1="1577.03" x2="171.80" y2="1577.03" stroke="#000" stroke-width="3.30" stroke-linecap="round"/>
<line x1="158.60" y1="1528.65" x2="171.80" y2="1528.65" stroke="#000" stroke-width="3.30" stroke-linecap="round"/>
<line x1="164.80" y1="1480.28" x2="171.80" y2="1480.28" stroke="#000" stroke-width="3.30" stroke-linecap="round"/>
<line x1="158.60" y1="1431.90" x2="171.80" y2="1431.90" stroke="#000" stroke-width="3.30" stroke-linecap="round"/>
<line x1="164.80" y1="1383.53" x2="171.80" y2="1383.53" stroke="#000" stroke-width="3.30" stroke-linecap="round"/>
<line x1="158.60" y1="1335.15" x2="171.80" y2="1335.15" stroke="#000" stroke-width="3.30" stroke-linecap="round"/>
<line x1="164.80" y1="1286.78" x2="171.80" y2="1286.78" stroke="#000" stroke-width="3.30" stroke-linecap="round"/>
<line x1="158.60" y1="1238.40" x2="171.80" y2="1238.40" stroke="#000" stroke-width="3.30" stroke-linecap="round"/>
<line x1="164.80" y1="1190.03" x2="171.80" y2="1190.03" stroke="#000" stroke-width="3.30" stroke-linecap="round"/>
<line x1="158.60" y1="1141.65" x2="171.80" y2="1141.65" stroke="#000" stroke-width="3.30" stroke-linecap="round"/>
<line x1="164.80" y1="1093.28" x2="171.80" y2="1093.28" stroke="#000" stroke-width="3.30" stroke-linecap="round"/>
<line x1="158.60" y1="1044.90" x2="171.80" y2="1044.90" stroke="#000" stroke-width="3.30" stroke-linecap="round"/>
<line x1="172.10" y1="1722.60" x2="172.10" y2="1729.60" stroke="#000" stroke-width="3.30" stroke-linecap="round"/>
<line x1="256.32" y1="1722.60" x2="256.32" y2="1735.80" stroke="#000" stroke-width="3.30" stroke-linecap="round"/>
<line x1="340.54" y1="1722.60" x2="340.54" y2="1729.60" stroke="#000" stroke-width="3.30" stroke-linecap="round"/>
<line x1="424.76" y1="1722.60" x2="424.76" y2="1735.80" stroke="#000" stroke-width="3.30" stroke-linecap="round"/>
<line x1="508.98" y1="1722.60" x2="508.98" y2="1729.60" stroke="#000" stroke-width="3.30" stroke-linecap="round"/>
<line x1="593.20" y1="1722.60" x2="593.20" y2="1735.80" stroke="#000" stroke-width="3.30" stroke-linecap="round"/>
<line x1="677.42" y1="1722.60" x2="677.42" y2="1729.60" stroke="#000" stroke-width="3.30" stroke-linecap="round"/>
<line x1="761.64" y1="1722.60" x2="761.64" y2="1735.80" stroke="#000" stroke-width="3.30" stroke-linecap="round"/>
<line x1="845.86" y1="1722.60" x2="845.86" y2="1729.60" stroke="#000" stroke-width="3.30" stroke-linecap="round"/>
<line x1="930.08" y1="1722.60" x2="930.08" y2="1735.80" stroke="#000" stroke-width="3.30" stroke-linecap="round"/>
<line x1="1014.30" y1="1722.60" x2="1014.30" y2="1729.60" stroke="#000" stroke-width="3.30" stroke-linecap="round"/>
<text transform="translate(149.00,1733.45) scale(1,1.045)" font-size="28.60" fill="#000" stroke="#000" stroke-width="0.20" text-anchor="end" letter-spacing="0.000" font-family="'Liberation Sans', Arial, sans-serif">-1x10<tspan font-size="17.60" dy="-12.44" letter-spacing="0">4</tspan></text>
<text transform="translate(149.00,1633.90) scale(1,1.045)" font-size="28.60" fill="#000" stroke="#000" stroke-width="0.20" text-anchor="end" font-family="'Liberation Sans', Arial, sans-serif" letter-spacing="0.000">0</text>
<text transform="translate(149.00,1539.95) scale(1,1.045)" font-size="28.60" fill="#000" stroke="#000" stroke-width="0.20" text-anchor="end" letter-spacing="0.000" font-family="'Liberation Sans', Arial, sans-serif">1x10<tspan font-size="17.60" dy="-12.44" letter-spacing="0">4</tspan></text>
<text transform="translate(149.00,1443.20) scale(1,1.045)" font-size="28.60" fill="#000" stroke="#000" stroke-width="0.20" text-anchor="end" letter-spacing="0.000" font-family="'Liberation Sans', Arial, sans-serif">2x10<tspan font-size="17.60" dy="-12.44" letter-spacing="0">4</tspan></text>
<text transform="translate(149.00,1346.45) scale(1,1.045)" font-size="28.60" fill="#000" stroke="#000" stroke-width="0.20" text-anchor="end" letter-spacing="0.000" font-family="'Liberation Sans', Arial, sans-serif">3x10<tspan font-size="17.60" dy="-12.44" letter-spacing="0">4</tspan></text>
<text transform="translate(149.00,1249.70) scale(1,1.045)" font-size="28.60" fill="#000" stroke="#000" stroke-width="0.20" text-anchor="end" letter-spacing="0.000" font-family="'Liberation Sans', Arial, sans-serif">4x10<tspan font-size="17.60" dy="-12.44" letter-spacing="0">4</tspan></text>
<text transform="translate(149.00,1152.95) scale(1,1.045)" font-size="28.60" fill="#000" stroke="#000" stroke-width="0.20" text-anchor="end" letter-spacing="0.000" font-family="'Liberation Sans', Arial, sans-serif">5x10<tspan font-size="17.60" dy="-12.44" letter-spacing="0">4</tspan></text>
<text transform="translate(149.00,1056.20) scale(1,1.045)" font-size="28.60" fill="#000" stroke="#000" stroke-width="0.20" text-anchor="end" letter-spacing="0.000" font-family="'Liberation Sans', Arial, sans-serif">6x10<tspan font-size="17.60" dy="-12.44" letter-spacing="0">4</tspan></text>
<text transform="translate(248.35,1766.40) scale(1,1.045)" font-size="28.80" fill="#000" stroke="#000" stroke-width="0.20" text-anchor="start" font-family="'Liberation Sans', Arial, sans-serif" letter-spacing="1.800">0</text>
<text transform="translate(400.90,1766.40) scale(1,1.045)" font-size="28.80" fill="#000" stroke="#000" stroke-width="0.20" text-anchor="start" font-family="'Liberation Sans', Arial, sans-serif" letter-spacing="-0.500">500</text>
<text transform="translate(561.65,1766.40) scale(1,1.045)" font-size="28.80" fill="#000" stroke="#000" stroke-width="0.20" text-anchor="start" font-family="'Liberation Sans', Arial, sans-serif" letter-spacing="-0.200">1000</text>
<text transform="translate(729.30,1766.40) scale(1,1.045)" font-size="28.80" fill="#000" stroke="#000" stroke-width="0.20" text-anchor="start" font-family="'Liberation Sans', Arial, sans-serif" letter-spacing="0.067">1500</text>
<text transform="translate(897.50,1766.40) scale(1,1.045)" font-size="28.80" fill="#000" stroke="#000" stroke-width="0.20" text-anchor="start" font-family="'Liberation Sans', Arial, sans-serif" letter-spacing="0.000">2000</text>
<text transform="translate(211.30,1099.10) scale(1,1.045)" font-size="28.80" fill="#000" stroke="#000" stroke-width="0.20" text-anchor="start" font-family="'Liberation Sans', Arial, sans-serif" letter-spacing="0.333">5285 nm</text>
<text transform="translate(203.75,1348.50) scale(1,1.045)" font-size="28.80" fill="#0000ff" stroke="#0000ff" stroke-width="0.20" text-anchor="start" font-family="'Liberation Sans', Arial, sans-serif" letter-spacing="0.500">2629 nm</text>
<text transform="translate(199.85,1472.20) scale(1,1.045)" font-size="28.80" fill="#ff0000" stroke="#ff0000" stroke-width="0.20" text-anchor="start" font-family="'Liberation Sans', Arial, sans-serif" letter-spacing="0.334">1321 nm</text>
<rect x="785.70" y="987.80" width="242.30" height="49.30" fill="#fff" stroke="#111" stroke-width="1.50"/>
<line x1="792.00" y1="1012.80" x2="869.00" y2="1012.80" stroke="#000" stroke-width="4.00" stroke-linecap="round"/>
<text transform="translate(878.95,1025.30) scale(1,1.030)" font-size="34.70" fill="#000" stroke="#000" stroke-width="0.20" text-anchor="start" font-family="'Liberation Sans', Arial, sans-serif" letter-spacing="0.800">RB21-Ag</text>
<text stroke="#000" stroke-width="0.20" transform="translate(501.95,1823.00) scale(1,1.030)" font-size="34.70" fill="#000" font-family="'Liberation Sans', Arial, sans-serif" letter-spacing="0.440">Lateral(μm)</text>
<text stroke="#000" stroke-width="0.20" transform="translate(44.20,1419.05) rotate(-90) scale(1,1.030)" font-size="34.70" fill="#000" font-family="'Liberation Sans', Arial, sans-serif" letter-spacing="0.627">Total Profile(Å)</text>
<text transform="translate(492.02,1914.60) scale(0.9267,1)" font-size="60.00" fill="#000" font-family="'Liberation Serif', 'DejaVu Serif', serif" font-weight="normal">(</text><text transform="translate(510.95,1914.60) scale(0.9250,1)" font-size="61.50" fill="#000" font-family="'Liberation Serif', 'DejaVu Serif', serif" font-weight="bold">c</text><text transform="translate(535.85,1914.60) scale(0.9267,1)" font-size="60.00" fill="#000" font-family="'Liberation Serif', 'DejaVu Serif', serif" font-weight="normal">)</text>
</g>
</svg></body></html>
